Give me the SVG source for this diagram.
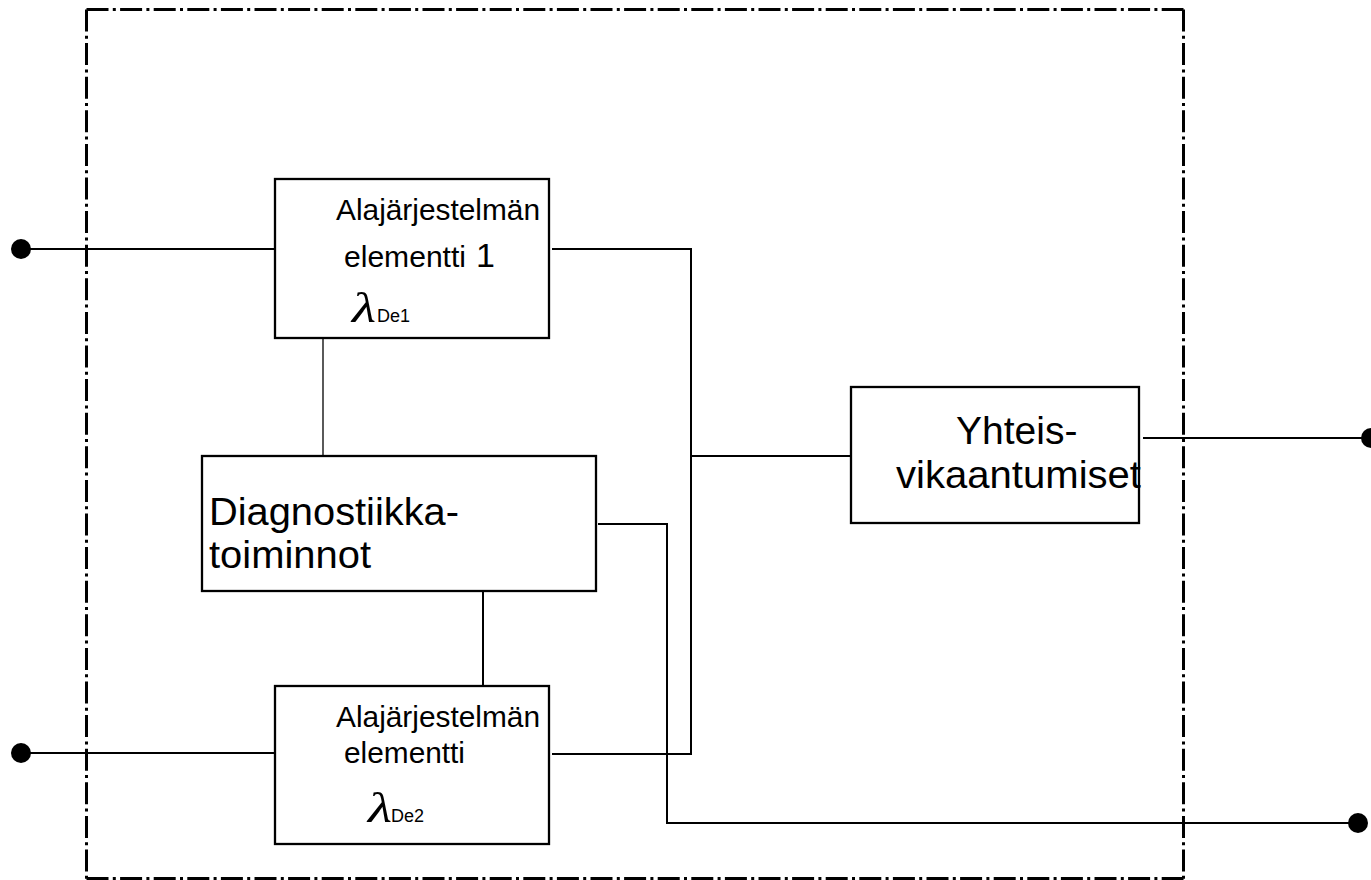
<svg xmlns="http://www.w3.org/2000/svg" width="1371" height="880" viewBox="0 0 1371 880">
  <style>
    .box { fill: #ffffff; stroke: #000000; stroke-width: 2.3; }
    .wire { fill: none; stroke: #000000; stroke-width: 2; }
    .thin { fill: none; stroke: #000000; stroke-width: 1.3; }
    .frame { fill: none; stroke: #000000; stroke-width: 3; stroke-dasharray: 22 4.3 3 4.3; }
    .t { font-family: "Liberation Sans", Arial, sans-serif; fill: #000000; }
    .lam { font-family: "Liberation Serif", "DejaVu Serif", serif; font-style: italic; fill: #000000; }
    .dot { fill: #000000; }
  </style>

  <rect width="1371" height="880" fill="#ffffff"/>

  <!-- subsystem boundary (dash-dot) -->
  <g id="boundary">
    <line class="frame" x1="86.5" y1="9.5" x2="86.5" y2="879"/>
    <line class="frame" x1="86.5" y1="9.5" x2="1183.5" y2="9.5"/>
    <line class="frame" x1="1183.5" y1="9.5" x2="1183.5" y2="879"/>
    <line class="frame" x1="86.5" y1="878.5" x2="1183.5" y2="878.5"/>
  </g>

  <!-- connectors -->
  <g id="connectors">
    <polyline class="wire" points="21,249 275,249"/>
    <polyline class="wire" points="21,753 275,753"/>
    <polyline class="wire" points="552,249 691,249 691,754 552,754"/>
    <polyline class="wire" points="691,456 851,456"/>
    <polyline class="thin" points="323,338 323,456"/>
    <polyline class="wire" points="483,591 483,686"/>
    <polyline class="wire" points="598,524 667,524 667,823 1358,823"/>
    <polyline class="wire" points="1143,438 1370,438"/>
    <circle class="dot" cx="21" cy="249" r="10"/>
    <circle class="dot" cx="21" cy="753" r="10"/>
    <circle class="dot" cx="1371" cy="438" r="10"/>
    <circle class="dot" cx="1358" cy="823" r="10"/>
  </g>

  <g id="element1">
    <rect class="box" x="275" y="179" width="274" height="159"/>
    <text class="t" x="336" y="220" font-size="29" textLength="204" lengthAdjust="spacingAndGlyphs">Alajärjestelmän</text>
    <text class="t" x="344" y="267" font-size="29" textLength="122" lengthAdjust="spacingAndGlyphs">elementti</text>
    <text class="t" x="476" y="267" font-size="34">1</text>
    <text class="lam" x="352" y="322" font-size="42" textLength="24" lengthAdjust="spacingAndGlyphs">λ</text>
    <text class="t" x="377" y="322" font-size="18">De1</text>
  </g>

  <g id="diagnostics">
    <rect class="box" x="202" y="456" width="394" height="135"/>
    <text class="t" x="209" y="525" font-size="38" textLength="250" lengthAdjust="spacingAndGlyphs">Diagnostiikka-</text>
    <text class="t" x="209" y="568" font-size="38" textLength="162" lengthAdjust="spacingAndGlyphs">toiminnot</text>
  </g>

  <g id="element2">
    <rect class="box" x="275" y="686" width="274" height="158"/>
    <text class="t" x="336" y="727" font-size="29" textLength="204" lengthAdjust="spacingAndGlyphs">Alajärjestelmän</text>
    <text class="t" x="344" y="763" font-size="29" textLength="121" lengthAdjust="spacingAndGlyphs">elementti</text>
    <text class="lam" x="368" y="822" font-size="42" textLength="24" lengthAdjust="spacingAndGlyphs">λ</text>
    <text class="t" x="391" y="822" font-size="18">De2</text>
  </g>

  <g id="common-cause">
    <rect class="box" x="851" y="387" width="288" height="136"/>
    <text class="t" x="956" y="444" font-size="39">Yhteis-</text>
    <text class="t" x="896" y="488" font-size="39" textLength="245" lengthAdjust="spacingAndGlyphs">vikaantumiset</text>
  </g>
</svg>
